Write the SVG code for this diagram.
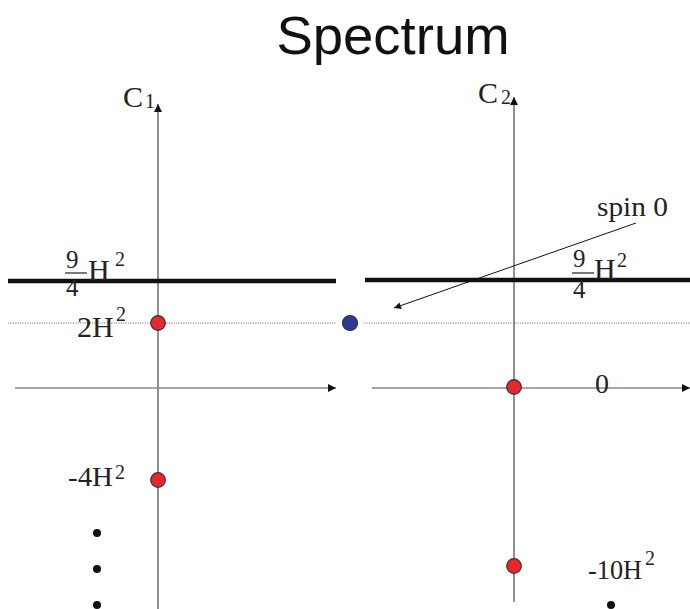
<svg xmlns="http://www.w3.org/2000/svg" width="690" height="609" viewBox="0 0 690 609">
<style>
.t{font-family:"Liberation Serif","Times New Roman",serif;font-size:30px;fill:#222}
.m{font-family:"Liberation Serif","Times New Roman",serif;font-size:28px;fill:#222}
.f{font-family:"Liberation Serif","Times New Roman",serif;font-size:25px;fill:#222}
.s{font-family:"Liberation Serif","Times New Roman",serif;font-size:20px;fill:#222}
.sub{font-family:"Liberation Serif","Times New Roman",serif;font-size:20px;fill:#222}
.title{font-family:"Liberation Sans",Arial,sans-serif;font-size:54.5px;fill:#111}
.axv{stroke:#555;stroke-width:1.3;fill:none}
.axh{stroke:#888;stroke-width:1.6;fill:none}
.thick{stroke:#111;stroke-width:4.3;fill:none}
.dot{stroke:#777;stroke-width:1;stroke-dasharray:1.2 1.2;fill:none}
.red{fill:#e8262b;stroke:#333;stroke-width:1.2}
.blue{fill:#2b3b96;stroke:#333;stroke-width:1.2}
.bd{fill:#111}
</style>
<defs>
<marker id="ah" viewBox="0 0 10 10" refX="10" refY="5" markerWidth="10" markerHeight="8" markerUnits="userSpaceOnUse" orient="auto">
<path d="M0,0 L10,5 L0,10 z" fill="#111"/>
</marker>
<marker id="ah2" viewBox="0 0 10 10" refX="10" refY="5" markerWidth="11" markerHeight="7" markerUnits="userSpaceOnUse" orient="auto">
<path d="M0,0 L10,5 L0,10 z" fill="#111"/>
</marker>
</defs>
<rect width="690" height="609" fill="#fff"/>
<text class="title" x="393" y="54" text-anchor="middle">Spectrum</text>
<g id="connectors">
<line class="axv" x1="158" y1="609" x2="158" y2="104" marker-end="url(#ah)"/>
<line class="axv" x1="514" y1="602" x2="514" y2="97" marker-end="url(#ah)"/>
<line class="axh" x1="15" y1="388" x2="336" y2="388" marker-end="url(#ah)"/>
<line class="axh" x1="372" y1="388" x2="690" y2="388" marker-end="url(#ah)"/>
<line class="thick" x1="8" y1="281" x2="336" y2="281"/>
<line class="thick" x1="365" y1="280" x2="690" y2="280"/>
<line class="dot" x1="8" y1="323" x2="336" y2="323"/>
<line class="dot" x1="364" y1="323" x2="690" y2="323"/>
<line x1="636" y1="223" x2="394" y2="308" stroke="#111" stroke-width="1" marker-end="url(#ah2)"/>
</g>
<g id="label-c1"><text class="t" x="123" y="107">C</text><text class="sub" x="145" y="108">1</text></g>
<g id="label-c2"><text class="t" x="478" y="103">C</text><text class="sub" x="501" y="104">2</text></g>
<g id="label-94-left">
<text class="f" x="66" y="268">9</text>
<line x1="65" y1="273" x2="87" y2="273" stroke="#222" stroke-width="1.2"/>
<text class="f" x="66" y="296">4</text>
<text class="t" x="88" y="280">H</text>
<text class="s" x="115" y="266">2</text>
</g>
<g id="label-94-right">
<text class="f" x="573" y="267">9</text>
<line x1="572" y1="273" x2="594" y2="273" stroke="#222" stroke-width="1.2"/>
<text class="f" x="573" y="298">4</text>
<text class="t" x="594" y="279">H</text>
<text class="s" x="617" y="267">2</text>
</g>
<g id="label-spin0"><text class="m" x="597" y="216" textLength="71" lengthAdjust="spacingAndGlyphs">spin 0</text></g>
<g id="label-2h2"><text class="t" x="77" y="337">2H</text><text class="s" x="116" y="321">2</text></g>
<g id="label-m4h2"><text class="m" x="68" y="486" textLength="45" lengthAdjust="spacingAndGlyphs">-4H</text><text class="s" x="115" y="479">2</text></g>
<g id="label-zero"><text class="m" x="595" y="393">0</text></g>
<g id="label-m10h2"><text class="m" x="588" y="579" style="font-size:27px" textLength="54" lengthAdjust="spacingAndGlyphs">-10H</text><text class="s" x="645" y="565">2</text></g>
<g id="pt-2h2"><circle class="red" cx="158" cy="323" r="7.3"/></g>
<g id="pt-blue"><circle class="blue" cx="350" cy="323" r="7.5"/></g>
<g id="pt-zero"><circle class="red" cx="514" cy="387" r="7.3"/></g>
<g id="pt-m4h2"><circle class="red" cx="158" cy="480" r="7.3"/></g>
<g id="pt-m10h2"><circle class="red" cx="514" cy="566" r="7.3"/></g>
<g id="ellipsis-left">
<circle class="bd" cx="97" cy="533" r="4"/>
<circle class="bd" cx="97" cy="569" r="4"/>
<circle class="bd" cx="97" cy="605" r="4"/>
</g>
<g id="ellipsis-right"><circle class="bd" cx="611" cy="605" r="4"/></g>
</svg>
